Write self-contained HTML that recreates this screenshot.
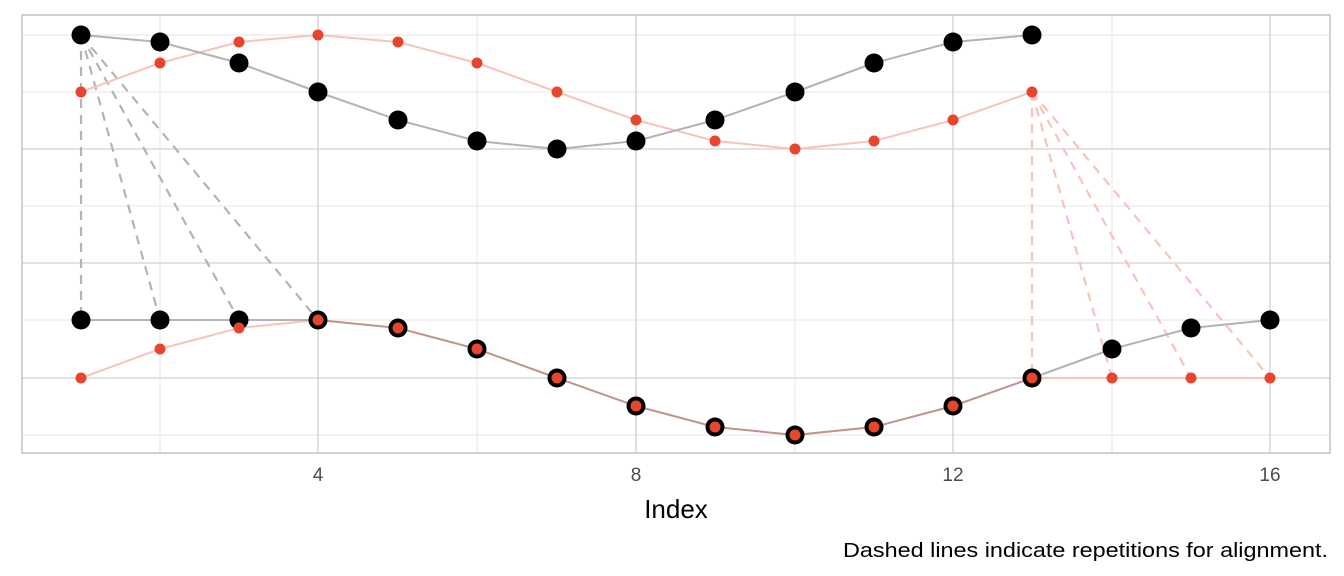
<!DOCTYPE html>
<html><head><meta charset="utf-8"><style>
html,body{margin:0;padding:0;background:#fff;}
svg{display:block;font-family:"Liberation Sans",sans-serif;}
</style></head><body>
<svg width="1344" height="576" viewBox="0 0 1344 576" xmlns="http://www.w3.org/2000/svg">
<rect x="0" y="0" width="1344" height="576" fill="#fff"/>
<g stroke="#e6e6e6" stroke-width="1">
<line x1="22" x2="1330" y1="35" y2="35"/><line x1="22" x2="1330" y1="92" y2="92"/>
<line x1="22" x2="1330" y1="206" y2="206"/><line x1="22" x2="1330" y1="320" y2="320"/>
<line x1="22" x2="1330" y1="435" y2="435"/>
<line x1="160" x2="160" y1="15" y2="453"/><line x1="477" x2="477" y1="15" y2="453"/>
<line x1="795" x2="795" y1="15" y2="453"/><line x1="1112" x2="1112" y1="15" y2="453"/>
</g>
<g stroke="#d0d0d0" stroke-width="1.3">
<line x1="22" x2="1330" y1="149" y2="149"/><line x1="22" x2="1330" y1="263" y2="263"/>
<line x1="22" x2="1330" y1="378" y2="378"/>
<line x1="318" x2="318" y1="15" y2="453"/><line x1="636" x2="636" y1="15" y2="453"/>
<line x1="953" x2="953" y1="15" y2="453"/><line x1="1270" x2="1270" y1="15" y2="453"/>
</g>
<rect x="22" y="15" width="1308" height="438" fill="none" stroke="#b3b3b3" stroke-width="1.2"/>
<g stroke="#b3b3b3" stroke-width="2.2" stroke-dasharray="9,7" fill="none">
<line x1="81" y1="35" x2="81" y2="320"/><line x1="81" y1="35" x2="160" y2="320"/>
<line x1="81" y1="35" x2="239" y2="320"/><line x1="81" y1="35" x2="318" y2="320"/>
</g>
<g stroke="#f7c4bb" stroke-width="2.2" stroke-dasharray="9,7" fill="none">
<line x1="1032" y1="92" x2="1032" y2="378"/><line x1="1032" y1="92" x2="1112" y2="378"/>
<line x1="1032" y1="92" x2="1191" y2="378"/><line x1="1032" y1="92" x2="1270" y2="378"/>
</g>
<polyline fill="none" stroke="#f7c4bb" stroke-width="2" points="81,92 160,63 239,42 318,35 398,42 477,63 557,92 636,120 715,141 795,149 874,141 953,120 1032,92"/>
<polyline fill="none" stroke="#b3b3b3" stroke-width="2" points="81,35 160,42 239,63 318,92 398,120 477,141 557,149 636,141 715,120 795,92 874,63 953,42 1032,35"/>
<polyline fill="none" stroke="#f7c4bb" stroke-width="2" points="81,378 160,349 239,328 318,320"/>
<polyline fill="none" stroke="#f7c4bb" stroke-width="2" points="1032,378 1112,378 1191,378 1270,378"/>
<polyline fill="none" stroke="#b3b3b3" stroke-width="2" points="81,320 160,320 239,320 318,320"/>
<polyline fill="none" stroke="#b3b3b3" stroke-width="2" points="1032,378 1112,349 1191,328 1270,320"/>
<polyline fill="none" stroke="#c0938c" stroke-width="2" points="318,320 398,328 477,349 557,378 636,406 715,427 795,435 874,427 953,406 1032,378"/>
<g fill="#000">
<circle cx="81" cy="35" r="9.5"/><circle cx="160" cy="42" r="9.5"/><circle cx="239" cy="63" r="9.5"/><circle cx="318" cy="92" r="9.5"/><circle cx="398" cy="120" r="9.5"/><circle cx="477" cy="141" r="9.5"/><circle cx="557" cy="149" r="9.5"/><circle cx="636" cy="141" r="9.5"/><circle cx="715" cy="120" r="9.5"/><circle cx="795" cy="92" r="9.5"/><circle cx="874" cy="63" r="9.5"/><circle cx="953" cy="42" r="9.5"/><circle cx="1032" cy="35" r="9.5"/>
<circle cx="81" cy="320" r="9.5"/><circle cx="160" cy="320" r="9.5"/><circle cx="239" cy="320" r="9.5"/><circle cx="318" cy="320" r="9.5"/><circle cx="398" cy="328" r="9.5"/><circle cx="477" cy="349" r="9.5"/><circle cx="557" cy="378" r="9.5"/><circle cx="636" cy="406" r="9.5"/><circle cx="715" cy="427" r="9.5"/><circle cx="795" cy="435" r="9.5"/><circle cx="874" cy="427" r="9.5"/><circle cx="953" cy="406" r="9.5"/><circle cx="1032" cy="378" r="9.5"/><circle cx="1112" cy="349" r="9.5"/><circle cx="1191" cy="328" r="9.5"/><circle cx="1270" cy="320" r="9.5"/>
</g>
<g fill="#e8452e">
<circle cx="81" cy="92" r="5.5"/><circle cx="160" cy="63" r="5.5"/><circle cx="239" cy="42" r="5.5"/><circle cx="318" cy="35" r="5.5"/><circle cx="398" cy="42" r="5.5"/><circle cx="477" cy="63" r="5.5"/><circle cx="557" cy="92" r="5.5"/><circle cx="636" cy="120" r="5.5"/><circle cx="715" cy="141" r="5.5"/><circle cx="795" cy="149" r="5.5"/><circle cx="874" cy="141" r="5.5"/><circle cx="953" cy="120" r="5.5"/><circle cx="1032" cy="92" r="5.5"/>
<circle cx="81" cy="378" r="5.5"/><circle cx="160" cy="349" r="5.5"/><circle cx="239" cy="328" r="5.5"/><circle cx="318" cy="320" r="5.5"/><circle cx="398" cy="328" r="5.5"/><circle cx="477" cy="349" r="5.5"/><circle cx="557" cy="378" r="5.5"/><circle cx="636" cy="406" r="5.5"/><circle cx="715" cy="427" r="5.5"/><circle cx="795" cy="435" r="5.5"/><circle cx="874" cy="427" r="5.5"/><circle cx="953" cy="406" r="5.5"/><circle cx="1032" cy="378" r="5.5"/><circle cx="1112" cy="378" r="5.5"/><circle cx="1191" cy="378" r="5.5"/><circle cx="1270" cy="378" r="5.5"/>
</g>
<g fill="#4d4d4d" font-size="19" text-anchor="middle">
<text x="318" y="481">4</text><text x="636" y="481">8</text><text x="953" y="481">12</text><text x="1270" y="481">16</text>
</g>
<text x="676" y="518" font-size="26" text-anchor="middle" fill="#000">Index</text>
<text x="843" y="557" font-size="20" textLength="485" lengthAdjust="spacingAndGlyphs" fill="#000">Dashed lines indicate repetitions for alignment.</text>
</svg>
</body></html>
